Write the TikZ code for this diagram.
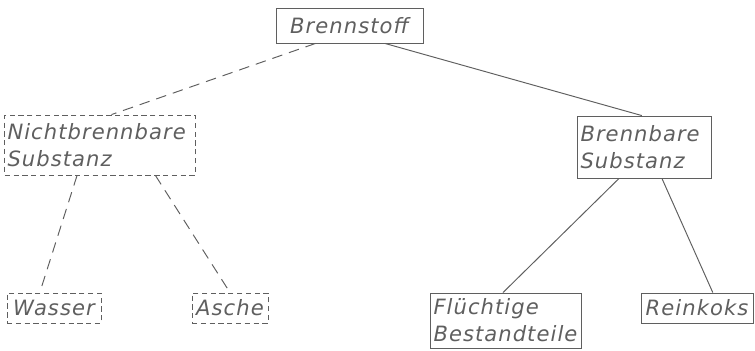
\documentclass[tikz,border=0pt]{standalone}
\usepackage{fontspec}
\setmainfont{DejaVu Sans}[LetterSpace=5]
\usepackage{tikz}
\usetikzlibrary{positioning,calc}
\definecolor{inkgray}{RGB}{95,95,95}

\begin{document}
\begin{tikzpicture}[
    font=\fontsize{12}{15.3}\selectfont\itshape,
    box/.style={rectangle, draw=inkgray, text=inkgray, line width=0.5pt, inner sep=1.5pt, align=left},
    dbox/.style={box, dash pattern=on 3pt off 2pt},
    link/.style={draw=inkgray, line width=0.55pt},
    dlink/.style={link, dash pattern=on 6pt off 4pt}
]
\useasboundingbox (0,0) rectangle (15.1,-7);

\node[box, minimum width=2.94cm, minimum height=0.70cm] (brst) at (6.99,-0.51) {Brennstoff};
\node[dbox, text width=3.70cm, minimum height=1.20cm] (nbs) at (2.00,-2.90) {Nichtbrennbare\\Substanz};
\node[box, text width=2.56cm, minimum height=1.24cm] (bs) at (12.89,-2.94) {Brennbare\\Substanz};
\node[dbox, minimum width=1.88cm, minimum height=0.60cm] (wasser) at (1.08,-6.16) {Wasser};
\node[dbox, minimum width=1.52cm, minimum height=0.60cm] (asche) at (4.60,-6.16) {Asche};
\node[box, text width=2.90cm, minimum height=1.10cm] (fluecht) at (10.12,-6.41) {Flüchtige\\Bestandteile};
\node[box, minimum width=2.24cm, minimum height=0.60cm] (koks) at (13.94,-6.16) {Reinkoks};

% not combustible part
\draw[dlink] ($(brst.south west)!0.27!(brst.south east)$) -- ($(nbs.north west)!0.56!(nbs.north east)$);
\draw[dlink] ($(nbs.south west)!0.38!(nbs.south east)$) -- ($(wasser.north west)!0.35!(wasser.north east)$);
\draw[dlink] ($(nbs.south west)!0.79!(nbs.south east)$) -- ($(asche.north west)!0.5!(asche.north east)$);

% combustible part
\draw[link] ($(brst.south west)!0.74!(brst.south east)$) -- ($(bs.north west)!0.48!(bs.north east)$);
\draw[link] ($(bs.south west)!0.31!(bs.south east)$) -- ($(fluecht.north west)!0.48!(fluecht.north east)$);
\draw[link] ($(bs.south west)!0.63!(bs.south east)$) -- ($(koks.north west)!0.64!(koks.north east)$);

\end{tikzpicture}
\end{document}
